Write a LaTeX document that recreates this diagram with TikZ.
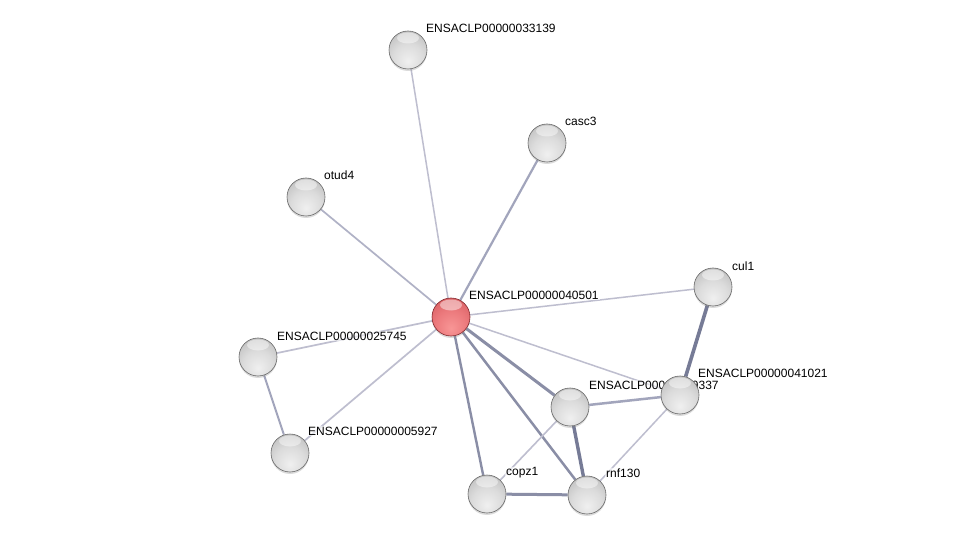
\documentclass[tikz,border=0pt]{standalone}
\usepackage{fontspec}
\setmainfont{Liberation Sans}
\usetikzlibrary{shadows}
\pgfdeclarelayer{bg}
\pgfdeclarelayer{edges}
\pgfdeclarelayer{labels}
\pgfsetlayers{bg,edges,labels,main}
\definecolor{elight}{RGB}{190,190,207}
\definecolor{emid}{RGB}{162,165,188}
\definecolor{edark}{RGB}{138,142,166}
\definecolor{edarker}{RGB}{118,123,150}
\definecolor{rimgray}{RGB}{105,105,105}
\definecolor{rimred}{RGB}{130,40,45}
\pgfdeclareradialshading{greyball}{\pgfpoint{0bp}{-15bp}}{%
  color(0bp)=(white!94!black); color(20bp)=(white!86!black); color(38bp)=(white!74!black);
  color(52bp)=(white!62!black); color(66bp)=(white!52!black); color(90bp)=(white!45!black)}
\pgfdeclareradialshading{redball}{\pgfpoint{0bp}{-15bp}}{%
  color(0bp)=(rgb,255:red,248;green,150;blue,150); color(20bp)=(rgb,255:red,236;green,122;blue,125);
  color(38bp)=(rgb,255:red,216;green,94;blue,98); color(52bp)=(rgb,255:red,190;green,70;blue,76);
  color(66bp)=(rgb,255:red,168;green,55;blue,60); color(90bp)=(rgb,255:red,145;green,42;blue,48)}
\tikzset{
  ballbase/.style={circle, minimum size=38pt, inner sep=0pt, line width=0.6pt,
    drop shadow={opacity=0.28, shadow xshift=0pt, shadow yshift=-2pt},
    path picture={\fill[white,opacity=0.45] ([yshift=-7pt]path picture bounding box.north) ellipse (11pt and 5.5pt);}},
  gball/.style={ballbase, shading=greyball, draw=rimgray},
  rball/.style={ballbase, shading=redball, draw=rimred},
  lbl/.style={anchor=west, inner sep=1pt, fill=white, fill opacity=0.6, text opacity=1,
    font=\fontsize{12}{14}\selectfont},
  thinedge/.style={draw=elight, line width=1.5pt},
  midedge/.style={draw=emid, line width=2.2pt},
  darkedge/.style={draw=edark, line width=2.8pt},
  heavyedge/.style={draw=edarker, line width=3.4pt}
}
\begin{document}
\begin{tikzpicture}[x=1pt,y=-1pt]
\begin{pgfonlayer}{bg}
\useasboundingbox[fill=white] (0,0) rectangle (975,540);
\end{pgfonlayer}
% nodes
\node[gball] (n33139) at (408,50) {};
\node[gball] (casc3) at (547,143) {};
\node[gball] (otud4) at (306,197) {};
\node[rball] (n40501) at (451,317) {};
\node[gball] (cul1) at (713,287) {};
\node[gball] (n25745) at (258,357) {};
\node[gball] (n5927) at (290,453) {};
\node[gball] (n337) at (570,407) {};
\node[gball] (n41021) at (680,395) {};
\node[gball] (copz1) at (487,494) {};
\node[gball] (rnf130) at (587,495) {};
% labels
\begin{pgfonlayer}{labels}
\node[lbl] (l33139) at (425,28) {ENSACLP00000033139};
\node[lbl] (lcasc3) at (564,121) {casc3};
\node[lbl] (lotud4) at (323,175) {otud4};
\node[lbl] (l40501) at (468,295) {ENSACLP00000040501};
\node[lbl] (lcul1) at (731,266) {cul1};
\node[lbl] (l25745) at (276,336) {ENSACLP00000025745};
\node[lbl] (l5927) at (307,431) {ENSACLP00000005927};
\node[lbl] (l337) at (588,385) {ENSACLP00000039337};
\node[lbl] (l41021) at (697,373) {ENSACLP00000041021};
\node[lbl] (lcopz1) at (505,473) {copz1};
\node[lbl] (lrnf130) at (605,473) {rnf130};
\end{pgfonlayer}
% edges
\begin{pgfonlayer}{edges}
\draw[thinedge] (n40501) -- (n33139);
\draw[midedge] (n40501) -- (casc3);
\draw[thinedge, draw=emid!85!white, line width=1.7pt] (n40501) -- (otud4);
\draw[thinedge] (n40501) -- (cul1);
\draw[thinedge, line width=1.7pt] (n40501) -- (n25745);
\draw[thinedge, line width=1.7pt] (n40501) -- (n5927);
\draw[thinedge] (n40501) -- (n41021);
\draw[darkedge, line width=3pt] (n40501) -- (n337);
\draw[darkedge, line width=2.5pt] (n40501) -- (rnf130);
\draw[midedge, draw=edark, line width=2.4pt] (n40501) -- (copz1);
\draw[heavyedge, line width=3.6pt] (cul1) -- (n41021);
\draw[midedge, line width=2.5pt] (n337) -- (n41021);
\draw[heavyedge] (n337) -- (rnf130);
\draw[thinedge, line width=1.6pt] (n337) -- (copz1);
\draw[darkedge, line width=3pt] (copz1) -- (rnf130);
\draw[thinedge] (n41021) -- (rnf130);
\draw[midedge, line width=2pt] (n25745) -- (n5927);
\end{pgfonlayer}
\end{tikzpicture}
\end{document}
